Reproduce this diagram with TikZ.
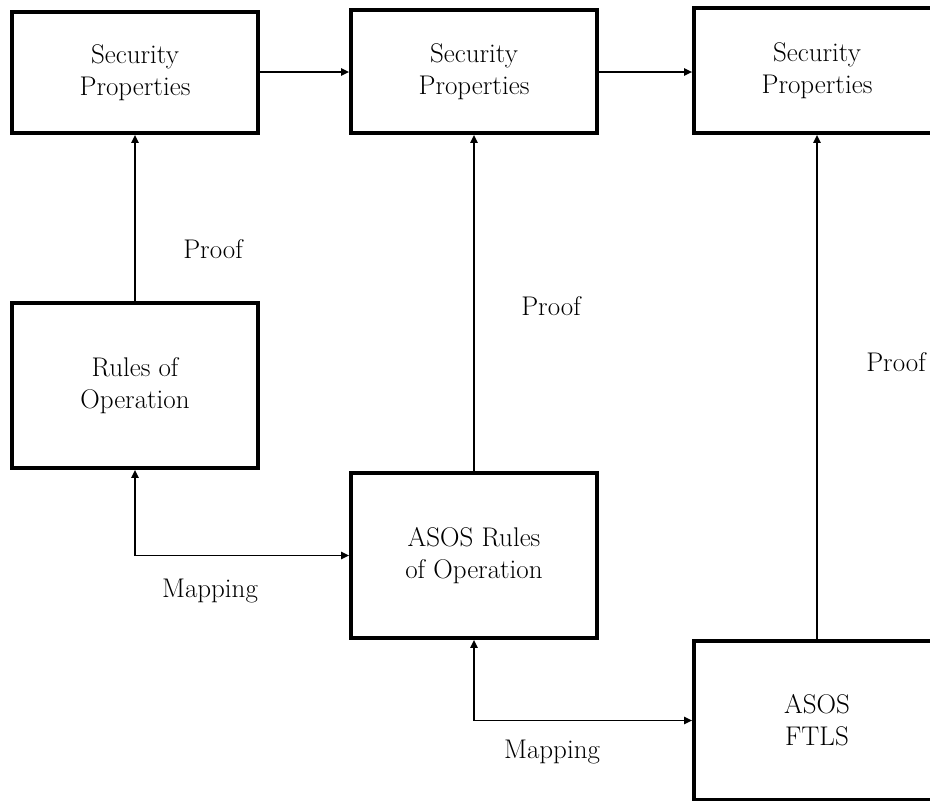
\documentclass[tikz,border=0pt]{standalone}
\usetikzlibrary{arrows.meta,calc}
\begin{document}
\begin{tikzpicture}[x=1pt,y=-1pt,
  box/.style={draw,line width=3.6pt,rectangle,minimum width=246pt,align=center,
    font=\fontsize{27}{32}\selectfont,inner sep=0pt},
  lbl/.style={font=\fontsize{27}{32}\selectfont,inner sep=0pt},
  arr/.style={line width=1.8pt,-{Triangle[length=8pt,width=7pt]}},
  biarr/.style={line width=1.8pt,{Triangle[length=8pt,width=7pt]}-{Triangle[length=8pt,width=7pt]}}]
  \useasboundingbox (0,0) rectangle (930,801);

  % top row: security properties
  \node[box,minimum height=121pt] (sp1) at (135,72.5) {Security\\Properties};
  \node[box,minimum height=123pt] (sp2) at (474,71.5) {Security\\Properties};
  \node[box,minimum height=125pt] (sp3) at (817,70.5) {Security\\Properties};

  % rules and specifications
  \node[box,minimum height=165pt] (ro) at (135,385.5) {Rules of\\Operation};
  \node[box,minimum height=165pt] (asr) at (474,555.5) {ASOS Rules\\of Operation};
  \node[box,minimum height=159pt] (ftls) at (817,720.5) {ASOS\\FTLS};

  % refinement chain
  \draw[arr] (sp1.east |- 0,72) coordinate (a1) -- (sp2.west |- a1);
  \draw[arr] (sp2.east |- 0,72) coordinate (a2) -- (sp3.west |- a2);

  % proofs
  \draw[arr] (ro.north) -- (sp1.south);
  \draw[arr] (asr.north) -- (sp2.south);
  \draw[arr] (ftls.north) -- (sp3.south);

  % mappings
  \draw[biarr] (ro.south) |- (asr.west);
  \draw[biarr] (asr.south) |- (ftls.west);

  % labels
  \node[lbl] (p1) at (213,249) {Proof};
  \node[lbl] (p2) at (551,306) {Proof};
  \node[lbl] (p3) at (896,362) {Proof};
  \node[lbl] (m1) at (210,591) {Mapping};
  \node[lbl] (m2) at (552,752) {Mapping};
\end{tikzpicture}
\end{document}
